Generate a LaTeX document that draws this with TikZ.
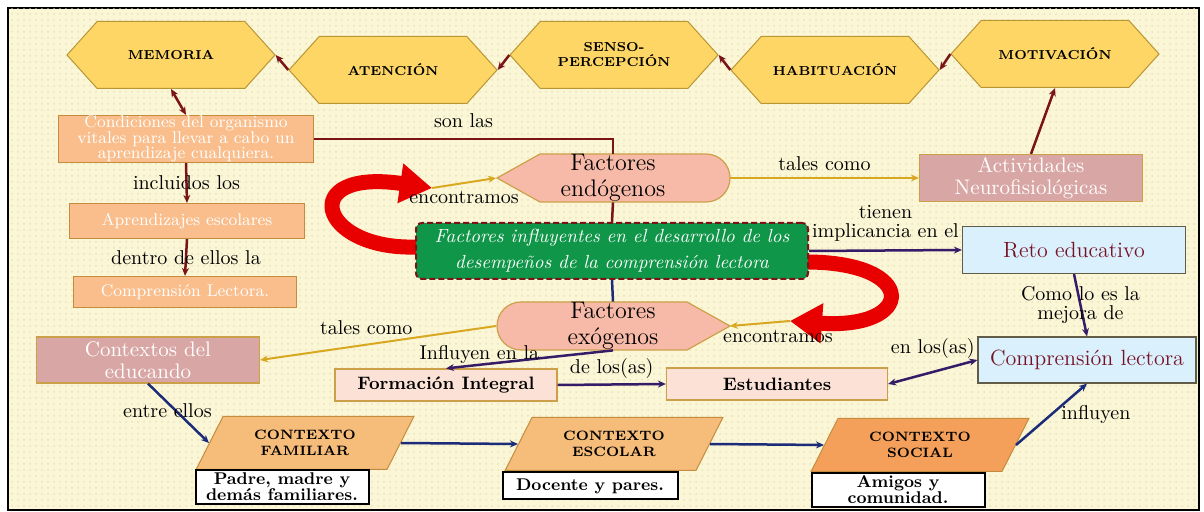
\documentclass[tikz,border=0pt]{standalone}
\usepackage{fontspec}
\usepackage{tikz}
\usetikzlibrary{shapes.symbols,shapes.geometric,arrows.meta,patterns}
\newdimen\px
\px=0.5pt
\definecolor{cream}{RGB}{251,246,214}
\definecolor{dotc}{RGB}{234,226,190}
\definecolor{hexfill}{RGB}{254,214,102}
\definecolor{hexline}{RGB}{184,150,52}
\definecolor{orfill}{RGB}{249,190,140}
\definecolor{orline}{RGB}{196,140,60}
\definecolor{maufill}{RGB}{216,166,164}
\definecolor{pkfill}{RGB}{247,186,168}
\definecolor{ltpink}{RGB}{252,226,214}
\definecolor{goldline}{RGB}{204,160,72}
\definecolor{ltblue}{RGB}{218,240,252}
\definecolor{greyline}{RGB}{96,92,72}
\definecolor{maroon}{RGB}{118,18,38}
\definecolor{cgreen}{RGB}{16,150,72}
\definecolor{dred}{RGB}{122,20,24}
\definecolor{navy}{RGB}{28,44,120}
\definecolor{violet}{RGB}{54,28,104}
\definecolor{gold}{RGB}{216,168,32}
\definecolor{parfill}{RGB}{246,188,122}
\definecolor{socfill}{RGB}{244,160,90}
\definecolor{bigred}{RGB}{232,0,0}

\begin{document}
\begin{tikzpicture}[
    x=0.5pt, y=-0.5pt,
    >={Stealth[length=4pt,width=3.5pt]},
    hexa/.style={signal, signal to=west and east, signal pointer angle=96,
      draw=hexline, fill=hexfill, line width=1\px, minimum width=208\px,
      minimum height=67\px, inner sep=0pt, align=center,
      font=\fontsize{6.5}{7.5}\selectfont\bfseries},
    box/.style={draw, line width=1.2\px, inner sep=0pt, align=center},
    orbox/.style={box, draw=orline, fill=orfill, text=white, font=\fontsize{8.5}{7.8}\selectfont},
    maubox/.style={box, draw=goldline, fill=maufill, text=white, font=\fontsize{10.5}{11}\selectfont},
    bluebox/.style={box, draw=greyline, fill=ltblue, text=maroon, font=\fontsize{11}{13}\selectfont},
    pkbox/.style={box, draw=goldline, fill=ltpink, font=\fontsize{9}{11}\selectfont\bfseries},
    whbox/.style={box, draw=black, line width=2\px, fill=white, font=\fontsize{8.5}{8}\selectfont\bfseries},
    para/.style={trapezium, trapezium left angle=57, trapezium right angle=123,
      trapezium stretches=true, draw=orline, fill=parfill, line width=1\px,
      minimum width=218\px, minimum height=53\px, inner sep=0pt, align=center,
      font=\fontsize{6.8}{8}\selectfont\bfseries},
    factor/.style={draw=goldline, fill=pkfill, line width=1.2\px},
    centre/.style={draw=dred, dash pattern=on 3pt off 1.5pt, line width=2\px,
      fill=cgreen, rounded corners=3pt, text=white, minimum width=392\px,
      minimum height=56\px, inner sep=0pt, align=center,
      font=\fontsize{9.5}{13}\selectfont\itshape},
    lbl/.style={font=\fontsize{10}{9.5}\selectfont, align=center},
    redc/.style={draw=dred, line width=2.5\px},
    navc/.style={draw=navy, line width=2.5\px},
    vioc/.style={draw=violet, line width=2.5\px},
    goldc/.style={draw=gold, line width=2\px},
    curl/.style={draw=bigred, line width=7.5pt, -{Triangle[length=16pt,width=19pt]}}
    ]
    \useasboundingbox (0,0) rectangle (1204,512);
    \draw[line width=2\px, fill=cream] (8,8) rectangle (1199,510);
    \fill[pattern=dots, pattern color=dotc] (9,9) rectangle (1198,509);

    \coordinate (redL) at (432,188);
    \coordinate (redR) at (790,321);
    \draw[curl] (416,247) .. controls (318,250) and (296,168) .. (redL);
    \draw[curl] (806,262) .. controls (920,262) and (915,330) .. (redR);

    \path[factor] (497,178) -- (540,154) -- (706,154) arc[start angle=90,end angle=-90,radius=12pt]
      -- (540,202) -- cycle;
    \path[factor] (730,326) -- (687,350) -- (521,350) arc[start angle=-90,end angle=-270,radius=12pt]
      -- (687,302) -- cycle;

    \node[hexa] (mem) at (171,55) {MEMORIA};
    \node[hexa] (ate) at (393,70) {ATENCIÓN};
    \node[hexa] (sen) at (614,55) {SENSO-\\PERCEPCIÓN};
    \node[hexa] (hab) at (835,70) {HABITUACIÓN};
    \node[hexa] (mot) at (1055,54) {MOTIVACIÓN};

    \node[orbox, minimum width=255\px, minimum height=47\px] (cond) at (186,139)
      {Condiciones del organismo\\vitales para llevar a cabo un\\aprendizaje cualquiera.};
    \node[orbox, minimum width=235\px, minimum height=35\px] (apr) at (187,221) {Aprendizajes escolares};
    \node[orbox, minimum width=223\px, minimum height=31\px] (lec) at (185,292) {Comprensión Lectora.};

    \node[inner sep=0pt, minimum width=233\px, minimum height=48\px, align=center,
      font=\fontsize{12}{13}\selectfont] (endo) at (613,178) {Factores\\endógenos};
    \node[inner sep=0pt, minimum width=233\px, minimum height=48\px, align=center,
      font=\fontsize{12}{13}\selectfont] (exo) at (613,326) {Factores\\exógenos};
    \node[centre] (cen) at (612,251)
      {Factores influyentes en el desarrollo de los\\desempeños de la comprensión lectora};

    \node[maubox, minimum width=223\px, minimum height=47\px] (act) at (1031,178) {Actividades\\Neurofisiológicas};
    \node[maubox, minimum width=223\px, minimum height=46\px] (ctx) at (148,360) {Contextos del\\educando};
    \node[bluebox, minimum width=223\px, minimum height=47\px] (reto) at (1074,250) {Reto educativo};
    \node[bluebox, minimum width=218\px, minimum height=46\px] (comp) at (1087,360) {Comprensión lectora};
    \node[pkbox, minimum width=222\px, minimum height=32\px] (form) at (446,385) {Formación Integral};
    \node[pkbox, minimum width=221\px, minimum height=32\px] (est) at (777,384) {Estudiantes};

    \node[para] (fam) at (305,443) {CONTEXTO\\FAMILIAR};
    \node[para] (esc) at (614,444) {CONTEXTO\\ESCOLAR};
    \node[para, fill=socfill] (soc) at (920,445) {CONTEXTO\\SOCIAL};
    \node[whbox, minimum width=173\px, minimum height=34\px] (pad) at (282,487) {Padre, madre y\\demás familiares.};
    \node[whbox, minimum width=175\px, minimum height=27\px] (doc) at (590,486) {Docente y pares.};
    \node[whbox, minimum width=173\px, minimum height=34\px] (ami) at (898,490) {Amigos y\\comunidad.};

    \draw[redc,->] (ate.west) -- (mem.east);
    \draw[redc,->] (sen.west) -- (ate.east);
    \draw[redc,->] (hab.west) -- (sen.east);
    \draw[redc,->] (mot.west) -- (hab.east);
    \draw[redc,<->] (mem.south) -- (cond.north);
    \draw[redc,->] (act.north) -- (mot.south);
    \draw[redc,->] (cond.south) -- (apr.north) node[midway,lbl] {incluidos los};
    \draw[redc,->] (apr.south) -- (lec.north) node[midway,lbl] {dentro de ellos la};
    \draw[redc] (cond.east) -| (endo.north) node[pos=0.25,above=1.5pt,lbl] {son las};
    \draw[redc] (endo.south) -- (cen.north);
    \draw[navc] (cen.south) -- (exo.north);

    \draw[goldc,->] (redL) -- (endo.west) node[midway,below=0.5pt,lbl] {encontramos};
    \draw[goldc,->] (redR) -- (exo.east) node[pos=0.2,below=0.5pt,lbl] {encontramos};
    \draw[goldc,->] (endo.east) -- (act.west) node[midway,above,lbl] {tales como};
    \draw[goldc,->] (exo.west) -- (ctx.east) node[pos=0.55,above=1pt,lbl] {tales como};

    \draw[vioc,->] (cen.east) -- (reto.west) node[midway,above=0.5pt,lbl] {tienen\\implicancia en el};
    \draw[vioc,->] (reto.south) -- (comp.north) node[midway,lbl] {Como lo es la\\mejora de};
    \draw[vioc,<->] (comp.west) -- (est.east) node[midway,above=3pt,lbl] {en los(as)};
    \draw[vioc,->] (form.east) -- (est.west) node[midway,above=-1pt,lbl] {de los(as)};
    \draw[vioc,->] (exo.south) -- (form.north) node[pos=0.8,yshift=5pt,lbl] {Influyen en la};

    \draw[navc,->] (ctx.south) -- (fam.west) node[pos=0.45,xshift=-4pt,lbl] {entre ellos};
    \draw[navc,->] (fam.east) -- (esc.west);
    \draw[navc,->] (esc.east) -- (soc.west);
    \draw[navc,->] (soc.east) -- (comp.south) node[midway,right=1pt,lbl] {influyen};
  \end{tikzpicture}
\end{document}
